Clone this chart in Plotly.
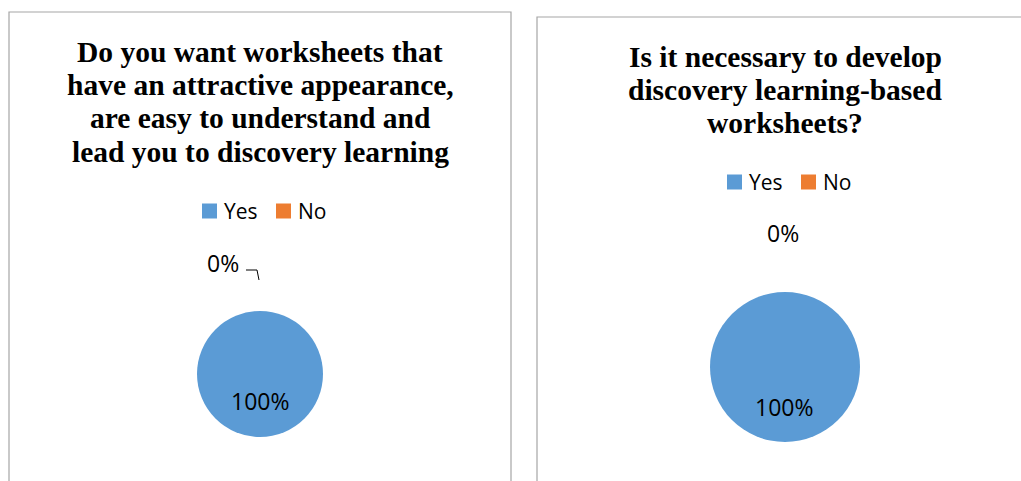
import plotly.graph_objects as go

W, H = 1021, 481

categories = ["Yes", "No"]
colors = ["#5B9BD5", "#ED7D31"]

q1_title = ["Do you want worksheets that",
            "have an attractive appearance,",
            "are easy to understand and",
            "lead you to discovery learning"]
q1_values = [100, 0]

q2_title = ["Is it necessary to develop",
            "discovery learning-based",
            "worksheets?"]
q2_values = [100, 0]


def px(x):
    return x / W


def py(y):
    return 1 - y / H


panels = [
    dict(title=q1_title, values=q1_values, cx=260, cy=374, r=63,
         title_y=[52, 85, 118, 152], legend_y=211, legend_x=[202, 276],
         zero_lab=(223, 263), full_lab=(260, 401),
         box=(9, 12, 511, 520)),
    dict(title=q2_title, values=q2_values, cx=785, cy=367, r=75,
         title_y=[57, 90, 123], legend_y=182, legend_x=[727, 801],
         zero_lab=(783, 233), full_lab=(784, 407),
         box=(537, 17, 1040, 520)),
]

fig = go.Figure()
annotations = []
shapes = []

for p in panels:
    fig.add_trace(go.Pie(
        labels=categories, values=p["values"],
        marker=dict(colors=colors, line=dict(width=0)),
        sort=False, direction="clockwise", rotation=0,
        textinfo="none", hoverinfo="label+percent", showlegend=False,
        domain=dict(x=[px(p["cx"] - p["r"]), px(p["cx"] + p["r"])],
                    y=[py(p["cy"] + p["r"]), py(p["cy"] - p["r"])]),
    ))
    # frame
    x0, y0, x1, y1 = p["box"]
    shapes.append(dict(type="rect", xref="paper", yref="paper",
                       x0=px(x0), x1=px(x1), y0=py(y1), y1=py(y0),
                       line=dict(color="#A6A6A6", width=1.2), layer="below"))
    # title
    for line, ty in zip(p["title"], p["title_y"]):
        annotations.append(dict(text="<b>%s</b>" % line, x=px(p["cx"]), y=py(ty),
                                xref="paper", yref="paper", showarrow=False,
                                xanchor="center", yanchor="middle",
                                font=dict(family="Liberation Serif", size=29.5, color="#000")))
    # legend
    for cat, col, lx in zip(categories, colors, p["legend_x"]):
        ly = p["legend_y"]
        shapes.append(dict(type="rect", xref="paper", yref="paper",
                           x0=px(lx), x1=px(lx + 15), y0=py(ly + 7.5), y1=py(ly - 7.5),
                           fillcolor=col, line=dict(width=0)))
        annotations.append(dict(text=cat, x=px(lx + 20), y=py(ly), xref="paper", yref="paper",
                                showarrow=False, xanchor="left", yanchor="middle",
                                font=dict(family="Open Sans", size=21, color="#000")))
    # percentage labels
    total = sum(p["values"])
    pcts = ["%d%%" % round(v * 100 / total) for v in p["values"]]
    for txt, (lx, ly) in zip([pcts[1], pcts[0]], [p["zero_lab"], p["full_lab"]]):
        annotations.append(dict(text=txt, x=px(lx), y=py(ly), xref="paper", yref="paper",
                                showarrow=False, xanchor="center", yanchor="middle",
                                font=dict(family="Open Sans", size=23, color="#000")))

# leader line for the 0% label of the first chart
shapes.append(dict(type="path", xref="paper", yref="paper",
                   path="M %f,%f L %f,%f L %f,%f" % (px(246), py(270), px(257), py(270), px(259), py(280)),
                   line=dict(color="#000", width=1)))

fig.update_layout(width=W, height=H, margin=dict(l=0, r=0, t=0, b=0),
                  paper_bgcolor="white", plot_bgcolor="white",
                  annotations=annotations, shapes=shapes)

fig.write_html("out.html")
